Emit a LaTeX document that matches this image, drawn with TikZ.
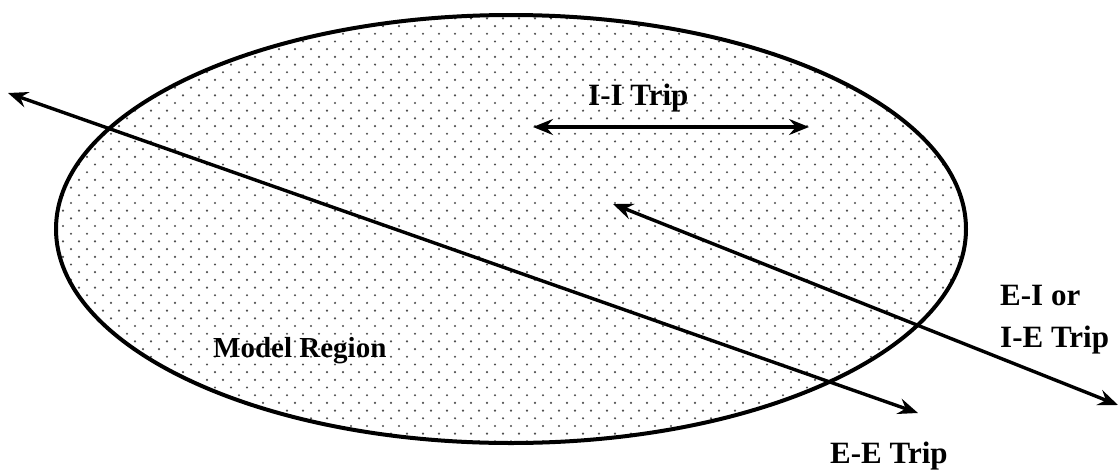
\documentclass[tikz,border=0pt]{standalone}
\usepackage{fontspec}
\setmainfont{Liberation Serif}
\usetikzlibrary{arrows.meta}
\definecolor{dotgray}{HTML}{505050}
\begin{document}
\begin{tikzpicture}[x=1pt,y=-1pt,
  trip/.style={line width=3.4pt,{Stealth[length=20pt,width=16pt,inset=7pt]}-{Stealth[length=20pt,width=16pt,inset=7pt]}},
  lbl/.style={font=\fontsize{31}{38}\selectfont\bfseries,inner sep=0pt,anchor=base west}]
\useasboundingbox (0,0) rectangle (1119,472);

% dotted fill of the model region
\begin{scope}
  \clip (511,229) ellipse [x radius=455pt, y radius=214pt];
  \foreach \k in {-12,...,45} {
    \foreach \j in {-1,...,60} {
      \fill[dotgray] ({15+16*\j+8*mod(\k+100,2)},{103+7.69*\k}) circle (1.2pt);
    }
  }
\end{scope}

% region outline
\draw[line width=4pt] (511,229) ellipse [x radius=455pt, y radius=214pt];

% end points of the trips
\coordinate (ii1) at (533,127);
\coordinate (ii2) at (809,127);
\coordinate (ei1) at (613,204);
\coordinate (ei2) at (1118,405);
\coordinate (ee1) at (8,93);
\coordinate (ee2) at (918,413);

\draw[trip] (ii1) -- (ii2);
\draw[trip] (ei1) -- (ei2);
\draw[trip] (ee1) -- (ee2);

% labels
\node[lbl] (iilbl) at (588,105) {I-I Trip};
\node[lbl] (mrlbl) at (213,357) {\fontsize{29}{36}\selectfont Model Region};
\node[lbl] (eilbl) at (1000,305) {E-I or};
\node[lbl] (ielbl) at (1000,347) {I-E Trip};
\node[lbl] (eelbl) at (830,463) {E-E Trip};
\end{tikzpicture}
\end{document}
